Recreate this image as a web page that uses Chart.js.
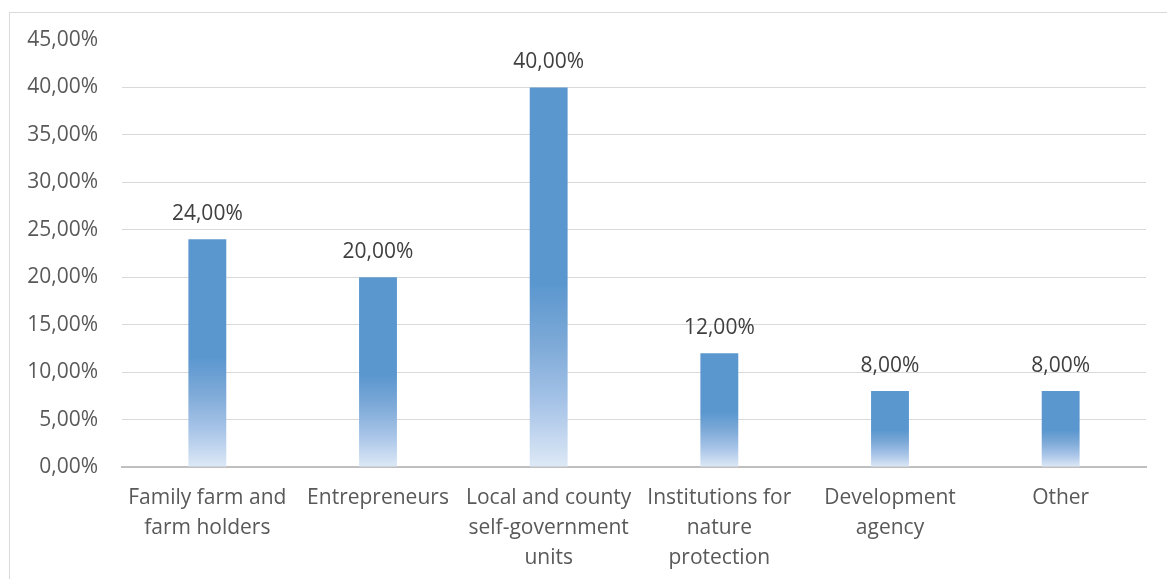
<!DOCTYPE html>
<html lang="en">
<head>
    <meta charset="UTF-8">
    <title>Stakeholder shares</title>
    <script src="https://cdn.jsdelivr.net/npm/chart.js@4.4.1/dist/chart.umd.min.js"></script>
    <style>
        body {
            margin: 0;
            background-color: white;
            overflow: hidden;
        }
        .frame {
            position: absolute;
            left: 9px;
            top: 12px;
            width: 1170px;
            height: 600px;
            border: 1px solid #d9d9d9;
        }
        .chart-container {
            position: absolute;
            left: 0;
            top: 0;
            width: 1167px;
            height: 579px;
        }
    </style>
</head>
<body>
    <div class="frame"></div>
    <div class="chart-container">
        <canvas id="shareChart"></canvas>
    </div>

    <script>
        // Data
        const categories = [
            ['Family farm and', 'farm holders'],
            ['Entrepreneurs'],
            ['Local and county', 'self-government', 'units'],
            ['Institutions for', 'nature', 'protection'],
            ['Development', 'agency'],
            ['Other']
        ];
        const shares = [24, 20, 40, 12, 8, 8];
        const yTicks = [0, 5, 10, 15, 20, 25, 30, 35, 40, 45];

        const fontFamily = "'Open Sans', 'Liberation Sans', sans-serif";

        function pct(v) {
            return v.toFixed(2).replace('.', ',') + '%';
        }

        // Excel-style linear gradient, solid on top half fading to pale at base
        function barFill(context) {
            const chart = context.chart;
            if (!chart.chartArea || context.parsed === undefined) {
                return '#5b97cf';
            }
            const yScale = chart.scales.y;
            const top = yScale.getPixelForValue(context.parsed.y);
            const bottom = yScale.getPixelForValue(0);
            const g = chart.ctx.createLinearGradient(0, top, 0, bottom);
            g.addColorStop(0, '#5b97cf');
            g.addColorStop(0.52, '#5b97cf');
            g.addColorStop(0.68, '#7eaad8');
            g.addColorStop(0.84, '#a9c5e8');
            g.addColorStop(1, '#dde9f6');
            return g;
        }

        const valueLabels = {
            id: 'valueLabels',
            afterDatasetsDraw(chart) {
                const ctx = chart.ctx;
                const meta = chart.getDatasetMeta(0);
                ctx.save();
                ctx.font = '21px ' + fontFamily;
                ctx.fillStyle = '#404040';
                ctx.textAlign = 'center';
                ctx.textBaseline = 'middle';
                meta.data.forEach((bar, i) => {
                    ctx.fillText(pct(shares[i]), bar.x, bar.y - 25);
                });
                ctx.restore();
            }
        };

        const ctx = document.getElementById('shareChart').getContext('2d');
        new Chart(ctx, {
            type: 'bar',
            data: {
                labels: categories,
                datasets: [{
                    data: shares,
                    backgroundColor: barFill,
                    borderWidth: 0,
                    categoryPercentage: 1,
                    barPercentage: 0.222
                }]
            },
            options: {
                responsive: true,
                maintainAspectRatio: false,
                animation: false,
                layout: {
                    padding: { top: 40, right: 21, bottom: 0, left: 0 }
                },
                scales: {
                    y: {
                        min: 0,
                        max: 45,
                        afterBuildTicks(scale) {
                            scale.ticks = yTicks.map(v => ({ value: v }));
                        },
                        afterFit(scale) {
                            scale.width = 122;
                        },
                        grid: {
                            color: (c) => c.tick && c.tick.value === 45 ? 'rgba(0,0,0,0)' : '#d9d9d9',
                            lineWidth: 1,
                            drawTicks: false
                        },
                        border: { display: false },
                        ticks: {
                            padding: 24,
                            color: '#595959',
                            font: { family: fontFamily, size: 21 },
                            callback: (v) => pct(v)
                        }
                    },
                    x: {
                        afterFit(scale) {
                            scale.height = 112;
                        },
                        grid: { display: false, drawTicks: false },
                        border: { display: true, color: '#bfbfbf', width: 2 },
                        ticks: {
                            padding: 16,
                            maxRotation: 0,
                            autoSkip: false,
                            color: '#595959',
                            font: { family: fontFamily, size: 21, lineHeight: 1.43 }
                        }
                    }
                },
                plugins: {
                    legend: { display: false },
                    tooltip: { enabled: false }
                }
            },
            plugins: [valueLabels]
        });
    </script>
</body>
</html>
